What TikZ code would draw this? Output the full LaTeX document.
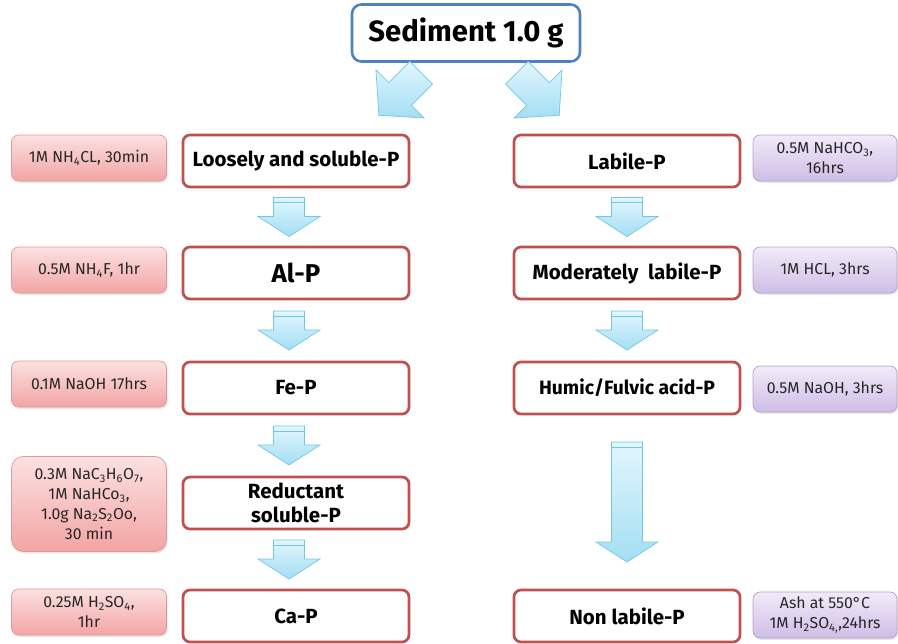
\documentclass[tikz,border=0pt]{standalone}
\usepackage{fontspec}
\setmainfont{Fira Sans}
\usetikzlibrary{shadows,calc}

\definecolor{boxred}{HTML}{C0504D}
\definecolor{sedblue}{HTML}{4F81BD}
\definecolor{arrowline}{HTML}{72C7E6}
\definecolor{arrowtop}{HTML}{E2F6FD}
\definecolor{arrowbot}{HTML}{A3DEF3}
\definecolor{pinktop}{HTML}{FCE1E1}
\definecolor{pinkbot}{HTML}{F3A4A4}
\definecolor{pinkline}{HTML}{DE9A9A}
\definecolor{lilactop}{HTML}{F2EBF9}
\definecolor{lilacbot}{HTML}{CFBDE6}
\definecolor{lilacline}{HTML}{B3A2C7}

\newcommand*\pxu{0.03cm}

\begin{document}
\begin{tikzpicture}[
  x=0.03cm, y=-0.03cm,
  source/.style={
    draw=sedblue,
    line width=2.2pt,
    rounded corners=8pt,
    fill=white,
    minimum width=228*\pxu,
    minimum height=57*\pxu,
    font=\bfseries\fontsize{25}{28}\selectfont
  },
  stage/.style={
    draw=boxred,
    line width=2.3pt,
    rounded corners=6pt,
    fill=white,
    minimum width=226*\pxu,
    minimum height=52*\pxu,
    inner sep=1pt,
    align=center,
    font=\bfseries\fontsize{17.5}{20}\selectfont
  },
  reagent/.style={
    line width=0.6pt,
    rounded corners=6pt,
    minimum width=155*\pxu,
    minimum height=46*\pxu,
    inner sep=1pt,
    align=center,
    text=black!85,
    font=\fontsize{13.5}{17}\selectfont,
    drop shadow={opacity=0.2, shadow xshift=1pt, shadow yshift=-1.5pt}
  },
  leftreag/.style={reagent, draw=pinkline, top color=pinktop, bottom color=pinkbot},
  rightreag/.style={reagent, draw=lilacline, top color=lilactop, bottom color=lilacbot,
    minimum width=144*\pxu},
  flow/.style={
    draw=arrowline,
    line width=0.6pt,
    top color=arrowtop,
    bottom color=arrowbot
  },
  % #1 length, #2 head length, #3 half shaft, #4 half head
  pics/fatarrow/.style n args={4}{code={
    \draw[flow] (-#1/2,-#3) -- (#1/2-#2,-#3) -- (#1/2-#2,-#4) -- (#1/2,0)
      -- (#1/2-#2,#4) -- (#1/2-#2,#3) -- (-#1/2,#3) -- cycle;
  }},
  pics/downarrow/.style={code={
    \draw[flow] (-#1/2,-15.5) -- (#1/2-20,-15.5) -- (#1/2-20,-31) -- (#1/2,0)
      -- (#1/2-20,31) -- (#1/2-20,15.5) -- (-#1/2,15.5) -- cycle;
    \draw[arrowline, line width=0.6pt] (-#1/2+5,-15.5) -- (-#1/2+5,15.5);
  }}
]
  \useasboundingbox (0,0) rectangle (898,643);

  \node[source] (sed) at (466,33) {Sediment 1.0 g};

  % fractions
  \node[stage] (loose) at (296,161) {Loosely and soluble-P};
  \node[stage, font=\bfseries\fontsize{22}{24}\selectfont] (alp) at (296,273) {Al-P};
  \node[stage] (fep) at (296,388) {Fe-P};
  \node[stage] (redp) at (296,503) {Reductant\\soluble-P};
  \node[stage] (cap) at (296,616) {Ca-P};
  \node[stage] (labile) at (627,161) {Labile-P};
  \node[stage] (modp) at (627,273) {Moderately\ \ labile-P};
  \node[stage, font=\bfseries\fontsize{16.5}{20}\selectfont] (humic) at (627,388) {Humic/Fulvic acid-P};
  \node[stage] (nonp) at (627,616) {Non labile-P};

  % extractants
  \node[leftreag] (r1) at (89,158) {1M NH\textsubscript{4}CL, 30min};
  \node[leftreag] (r2) at (89,270) {0.5M NH\textsubscript{4}F, 1hr};
  \node[leftreag] (r3) at (89,384) {0.1M NaOH 17hrs};
  \node[leftreag, minimum height=95*\pxu, rounded corners=10pt] (r4) at (89,504)
    {0.3M NaC\textsubscript{3}H\textsubscript{6}O\textsubscript{7},\\
     1M NaHCo\textsubscript{3},\\
     1.0g Na\textsubscript{2}S\textsubscript{2}Oo,\\
     30 min};
  \node[leftreag] (r5) at (89,612) {0.25M H\textsubscript{2}SO\textsubscript{4},\\1hr};
  \node[rightreag] (s1) at (825,158) {0.5M NaHCO\textsubscript{3},\\16hrs};
  \node[rightreag] (s2) at (825,270) {1M HCL, 3hrs};
  \node[rightreag] (s3) at (825,389) {0.5M NaOH, 3hrs};
  \node[rightreag] (s4) at (825,615) {Ash at 550°C\\1M H\textsubscript{2}SO\textsubscript{4,},24hrs};

  % arrows
  \pic[rotate=225] at (400,94) {fatarrow={60}{30}{16}{34}};
  \pic[rotate=-45] at (538,94) {fatarrow={60}{30}{16}{34}};
  \pic[rotate=-90] at ($(loose.south)!.5!(alp.north)+(-7,0)$) {downarrow=39};
  \pic[rotate=-90] at ($(alp.south)!.5!(fep.north)+(-7,0)$) {downarrow=39};
  \pic[rotate=-90] at ($(fep.south)!.5!(redp.north)+(-7,0)$) {downarrow=39};
  \pic[rotate=-90] at ($(redp.south)!.5!(cap.north)+(-7,0)$) {downarrow=39};
  \pic[rotate=-90] at ($(labile.south)!.5!(modp.north)$) {downarrow=39};
  \pic[rotate=-90] at ($(modp.south)!.5!(humic.north)$) {downarrow=39};
  \pic[rotate=-90] at ($(humic.south)!.5!(nonp.north)$) {downarrow=120};
\end{tikzpicture}
\end{document}
